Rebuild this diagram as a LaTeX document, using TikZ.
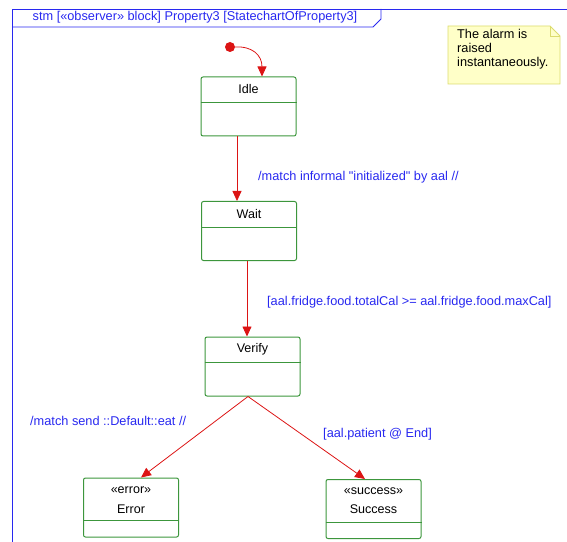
\documentclass[tikz,border=0pt]{standalone}
\usepackage{fontspec}
\setmainfont{Liberation Sans}
\usetikzlibrary{arrows.meta,calc}
\definecolor{frameblue}{RGB}{40,40,240}
\definecolor{stategreen}{RGB}{60,150,60}
\definecolor{transred}{RGB}{220,20,20}
\definecolor{notefill}{RGB}{255,255,200}
\definecolor{noteline}{RGB}{220,220,110}
\begin{document}
\begin{tikzpicture}[x=1bp,y=-1bp,
  statebox/.style={draw=stategreen,line width=1bp,rounded corners=2bp,minimum width=95bp,minimum height=59bp,inner sep=0pt},
  divider/.style={draw=stategreen,line width=1bp},
  stname/.style={font=\fontsize{12.6}{14}\selectfont,inner sep=0pt},
  trans/.style={draw=transred,line width=0.8bp,-{Triangle[width=9bp,length=10bp]}},
  lbl/.style={text=frameblue,font=\fontsize{12.8}{14}\selectfont,inner sep=0pt,anchor=west},
  notetext/.style={font=\fontsize{12.8}{14}\selectfont,align=left,inner sep=0pt,anchor=north west}]
\useasboundingbox (0,0) rectangle (567,542);
% frame
\draw[frameblue,line width=0.8bp] (12,542) -- (12,9) -- (567,9);
\draw[frameblue,line width=0.8bp] (12,27) -- (373,27) -- (381,19) -- (381,9);
\node[text=frameblue,font=\fontsize{12.8}{14}\selectfont,inner sep=0pt] (hdr) at (195,17.5) {stm [«observer» block] Property3 [StatechartOfProperty3]};
% note
\draw[noteline,fill=notefill,line width=0.8bp] (448,26) -- (550,26) -- (560,36) -- (560,84) -- (448,84) -- cycle;
\draw[noteline,line width=0.8bp] (550,26) -- (550,36) -- (560,36);
\node[notetext] (note) at (457,29.5) {The alarm is\\raised\\instantaneously.};
% initial
\node[circle,fill=transred,inner sep=0pt,minimum size=10bp] (init) at (230,47) {};
% states
\node[statebox] (idle) at (248.5,106.5) {};
\draw[divider] ([yshift=-26bp]idle.north west) -- ([yshift=-26bp]idle.north east);
\node[stname] (idlename) at ([yshift=-13bp]idle.north) {Idle};

\node[statebox] (wait) at (249,231) {};
\draw[divider] ([yshift=-26bp]wait.north west) -- ([yshift=-26bp]wait.north east);
\node[stname] (waitname) at ([yshift=-13bp]wait.north) {Wait};

\node[statebox] (verify) at (252.5,366.5) {};
\draw[divider] ([yshift=-26bp]verify.north west) -- ([yshift=-26bp]verify.north east);
\node[stname] (verifyname) at ([yshift=-13bp]verify.north) {Verify};

\node[statebox] (error) at (131,507.5) {};
\draw[divider] ([yshift=-43bp]error.north west) -- ([yshift=-43bp]error.north east);
\node[stname] (errorst) at ([yshift=-12.5bp]error.north) {«error»};
\node[stname] (errorname) at ([yshift=-31.5bp]error.north) {Error};

\node[statebox] (success) at (373.5,509) {};
\draw[divider] ([yshift=-43bp]success.north west) -- ([yshift=-43bp]success.north east);
\node[stname] (successst) at ([yshift=-12bp]success.north) {«success»};
\node[stname] (successname) at ([yshift=-30.5bp]success.north) {Success};
% transitions
\draw[trans] (init.east) .. controls (252,46) and (262,55) .. ([xshift=13.5bp]idle.north);
\draw[trans] ([xshift=-11.5bp]idle.south) -- ([xshift=-11.5bp]idle.south |- wait.north);
\draw[trans] ([xshift=-2bp]wait.south) -- ([xshift=-2bp]wait.south |- verify.north);
\draw[trans] ([xshift=-4.5bp]verify.south) -- ([xshift=10bp]error.north);
\draw[trans] ([xshift=-4.5bp]verify.south) -- ([xshift=-8.5bp]success.north);
% labels
\node[lbl] (l1) at (258,177) {/match informal \textquotedbl initialized\textquotedbl{} by aal //};
\node[lbl] (l2) at (267,302) {[aal.fridge.food.totalCal >= aal.fridge.food.maxCal]};
\node[lbl] (l3) at (30,421) {/match send ::Default::eat //};
\node[lbl] (l4) at (323,434) {[aal.patient @ End]};
\end{tikzpicture}
\end{document}
